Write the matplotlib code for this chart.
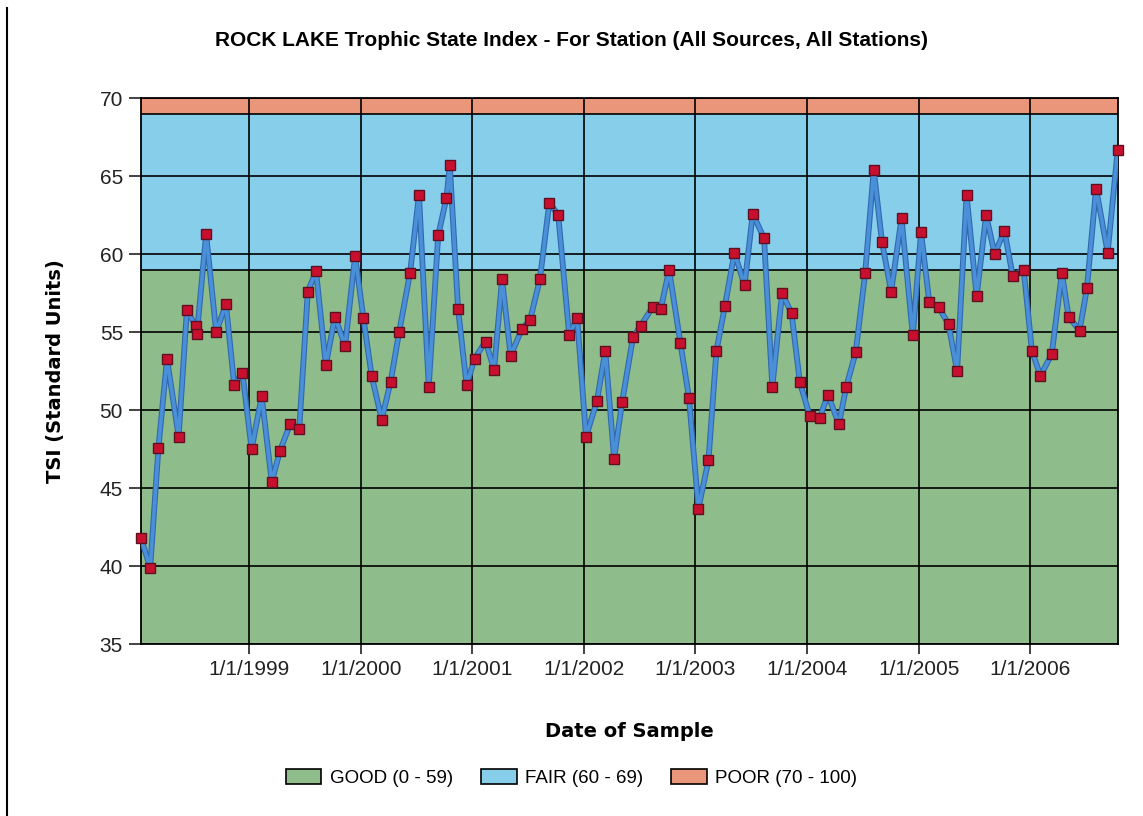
import matplotlib
matplotlib.use("Agg")
import matplotlib.pyplot as plt
import matplotlib.dates as mdates
import matplotlib.patheffects as pe
from matplotlib.patches import Patch
from matplotlib.lines import Line2D
from matplotlib.ticker import FuncFormatter
import pandas as pd

# sample dates and TSI values
dates = [
    "1998-01-12", "1998-02-11", "1998-03-10", "1998-04-07", "1998-05-15", "1998-06-11",
    "1998-07-10", "1998-07-14", "1998-08-13", "1998-09-15", "1998-10-17", "1998-11-13", "1998-12-10",
    "1999-01-09", "1999-02-11", "1999-03-16", "1999-04-12", "1999-05-15", "1999-06-14",
    "1999-07-12", "1999-08-08", "1999-09-09", "1999-10-09", "1999-11-11", "1999-12-14",
    "2000-01-10", "2000-02-06", "2000-03-10", "2000-04-08", "2000-05-06", "2000-06-11",
    "2000-07-10", "2000-08-11", "2000-09-11", "2000-10-08", "2000-10-19", "2000-11-15", "2000-12-13",
    "2001-01-08", "2001-02-13", "2001-03-13", "2001-04-08", "2001-05-06", "2001-06-12",
    "2001-07-09", "2001-08-10", "2001-09-10", "2001-10-09", "2001-11-14", "2001-12-10",
    "2002-01-08", "2002-02-13", "2002-03-12", "2002-04-10", "2002-05-06", "2002-06-11",
    "2002-07-06", "2002-08-14", "2002-09-10", "2002-10-07", "2002-11-13", "2002-12-11",
    "2003-01-11", "2003-02-13", "2003-03-11", "2003-04-08", "2003-05-09", "2003-06-11",
    "2003-07-08", "2003-08-14", "2003-09-10", "2003-10-12", "2003-11-12", "2003-12-09",
    "2004-01-11", "2004-02-12", "2004-03-10", "2004-04-15", "2004-05-09", "2004-06-09",
    "2004-07-10", "2004-08-07", "2004-09-03", "2004-10-03", "2004-11-06", "2004-12-13",
    "2005-01-09", "2005-02-05", "2005-03-08", "2005-04-09", "2005-05-07", "2005-06-07",
    "2005-07-10", "2005-08-10", "2005-09-07", "2005-10-09", "2005-11-05", "2005-12-11",
    "2006-01-07", "2006-02-04", "2006-03-13", "2006-04-15", "2006-05-07", "2006-06-12",
    "2006-07-06", "2006-08-05", "2006-09-12", "2006-10-15",
]
tsi = [
    41.8, 39.9, 47.6, 53.3, 48.3, 56.4, 55.4, 54.9, 61.3, 55.0, 56.8, 51.6, 52.4,
    47.5, 50.9, 45.4, 47.4, 49.1, 48.8, 57.6, 58.9, 52.9, 56.0, 54.1, 59.9,
    55.9, 52.2, 49.4, 51.8, 55.0, 58.8, 63.8, 51.5, 61.2, 63.6, 65.7, 56.5, 51.6,
    53.3, 54.4, 52.6, 58.4, 53.5, 55.2, 55.8, 58.4, 63.3, 62.5, 54.8, 55.9,
    48.3, 50.6, 53.8, 46.9, 50.5, 54.7, 55.4, 56.6, 56.5, 59.0, 54.3, 50.8,
    43.7, 46.8, 53.8, 56.7, 60.1, 58.0, 62.6, 61.0, 51.5, 57.5, 56.2, 51.8,
    49.6, 49.5, 51.0, 49.1, 51.5, 53.7, 58.8, 65.4, 60.8, 57.6, 62.3, 54.8,
    61.4, 56.9, 56.6, 55.5, 52.5, 63.8, 57.3, 62.5, 60.0, 61.5, 58.6, 59.0,
    53.8, 52.2, 53.6, 58.8, 56.0, 55.1, 57.8, 64.2, 60.1, 66.7,
]

# rating bands (lower, upper) and legend labels
band_labels = ["GOOD (0 - 59)", "FAIR (60 - 69)", "POOR (70 - 100)"]
band_limits = [(35, 59), (59, 69), (69, 70)]
band_colors = ["#8fbc8b", "#87ceeb", "#e9967a"]

sans = ["Liberation Sans", "DejaVu Sans"]
x = pd.to_datetime(dates)

fig = plt.figure(figsize=(11.43, 8.16), dpi=100)
ax = fig.add_axes([0.1234, 0.2104, 0.8545, 0.6695])

for (lo, hi), c in zip(band_limits, band_colors):
    ax.axhspan(lo, hi, color=c, zorder=0, lw=0)
for lo, hi in band_limits[1:]:
    ax.axhline(lo, color="black", lw=1.2, zorder=1)

ax.grid(True, color="black", lw=1.2, zorder=1)
ax.set_axisbelow(True)

ax.plot(x, tsi, color="#4a90d9", lw=2.6, zorder=3,
        path_effects=[pe.Stroke(linewidth=4.2, foreground="#3268ad"), pe.Normal()])
ax.plot(x, tsi, ls="none", marker="s", ms=6.5, mfc="#c8102e", mec="#5e1020",
        mew=1.0, zorder=4, clip_on=False)

ax.set_ylim(35, 70)
ax.set_yticks(range(35, 71, 5))
ax.set_xlim(x[0], x[-1])
ax.xaxis.set_major_locator(mdates.YearLocator())
ax.xaxis.set_major_formatter(FuncFormatter(
    lambda v, p: "{0}/{1}/{2}".format(mdates.num2date(v).month,
                                      mdates.num2date(v).day,
                                      mdates.num2date(v).year)))

ax.tick_params(axis="y", length=9, width=1.2, pad=4, labelsize=15, colors="#222222")
ax.tick_params(axis="x", length=7, width=1.2, pad=4, labelsize=15, colors="#222222")
for lab in ax.get_xticklabels() + ax.get_yticklabels():
    lab.set_family(sans)
for s in ax.spines.values():
    s.set_color("black")
    s.set_linewidth(1.3)

ax.set_ylabel("TSI (Standard Units)", fontsize=14, fontweight="bold", family="DejaVu Sans")
ax.yaxis.set_label_coords(-0.078, 0.5)
ax.set_xlabel("Date of Sample", fontsize=14, fontweight="bold", family="DejaVu Sans")
ax.xaxis.set_label_coords(0.5, -0.142)

fig.text(0.5, 1 - 41 / 816, "ROCK LAKE Trophic State Index - For Station (All Sources, All Stations)",
         ha="center", va="center", fontsize=15, fontweight="bold", family=sans)

handles = [Patch(facecolor=c, edgecolor="black", lw=1.2) for c in band_colors]
fig.legend(handles, band_labels, loc="center", bbox_to_anchor=(0.5, 1 - 778 / 816),
           ncol=3, frameon=False, prop={"family": sans, "size": 13.5},
           handlelength=1.9, handleheight=0.8, handletextpad=0.45, columnspacing=1.5)

# page border line at the left edge
fig.add_artist(Line2D([0.0065, 0.0065], [0, 0.99], color="black", lw=1.5))

fig.savefig("out.png", dpi=100)
